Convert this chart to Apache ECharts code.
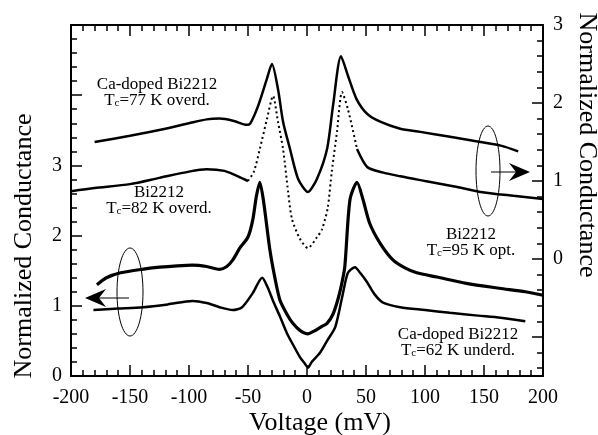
<!DOCTYPE html>
<html>
<head>
<meta charset="utf-8">
<script src="https://cdn.jsdelivr.net/npm/echarts@6/dist/echarts.min.js"></script>
<style>
  html, body { margin: 0; padding: 0; background: #fff; }
  #chart { width: 598px; height: 435px; }
</style>
</head>
<body>
<div id="chart"></div>
<script>
// 右轴: Ca-doped Bi2212, Tc=77 K overd. [mV, G]
const ca77 = [[-180, 1.50], [-150, 1.58], [-120, 1.67], [-100, 1.74], [-85, 1.79], [-74, 1.80],
  [-62, 1.77], [-51, 1.72], [-48, 1.74], [-41.5, 1.96], [-34, 2.31], [-29.7, 2.50], [-24.6, 2.18],
  [-20.3, 1.76], [-14.4, 1.41], [-7.6, 1.03], [0.8, 0.86], [8.5, 1.03], [17, 1.41], [22, 1.96],
  [28.8, 2.60], [34.7, 2.35], [42, 2.05], [51, 1.86], [62, 1.76], [79, 1.67], [96, 1.63],
  [120, 1.57], [147, 1.50], [165, 1.45], [179, 1.38]];

// 右轴: Bi2212, Tc=82 K overd. (中间部分为点线)
const bi82Left = [[-200, 0.87], [-180, 0.91], [-150, 0.96], [-125, 1.04], [-100, 1.12], [-85, 1.15],
  [-70, 1.13], [-60, 1.07], [-50, 1.00]];
const bi82Dots = [[-50, 1.00], [-45, 1.12], [-40, 1.41], [-34, 1.79], [-28.8, 2.09], [-24.6, 1.76],
  [-20.3, 1.41], [-16, 0.86], [-12.7, 0.51], [-6, 0.26], [0.8, 0.14], [8.5, 0.28], [12.7, 0.38],
  [17.5, 0.65], [21, 1.12], [25.4, 1.63], [29.7, 2.14], [34.7, 1.92], [42.4, 1.41]];
const bi82Right = [[42.4, 1.41], [51, 1.18], [64, 1.11], [79, 1.06], [100, 1.00], [125, 0.93],
  [147, 0.86], [175, 0.81], [200, 0.77]];

// 左轴: Bi2212, Tc=95 K opt.
const bi95 = [[-178, 1.30], [-170, 1.40], [-158, 1.47], [-140, 1.52], [-125, 1.55], [-110, 1.57],
  [-97, 1.58], [-85, 1.56], [-74, 1.52], [-68, 1.56], [-63, 1.65], [-57, 1.82], [-50, 1.98],
  [-46, 2.22], [-43, 2.55], [-40, 2.76], [-37, 2.51], [-31.4, 1.79], [-27, 1.38], [-22.9, 1.08],
  [-17, 0.88], [-12, 0.75], [-6, 0.65], [0.8, 0.60], [6, 0.64], [12, 0.70], [17, 0.75],
  [22, 0.88], [26, 1.08], [29, 1.28], [32, 1.55], [36.4, 2.51], [42.4, 2.76], [47.5, 2.51],
  [53, 2.18], [62, 1.89], [73, 1.65], [83, 1.54], [93, 1.47], [110, 1.41], [135, 1.32],
  [163, 1.25], [185, 1.20], [200, 1.15]];

// 左轴: Ca-doped Bi2212, Tc=62 K underd.
const ca62 = [[-181, 0.94], [-160, 0.96], [-139, 0.98], [-118, 1.02], [-97, 1.07], [-85, 1.04],
  [-74, 0.98], [-63, 0.94], [-55, 0.98], [-46, 1.18], [-38, 1.40], [-33, 1.25], [-29, 1.08],
  [-23, 0.85], [-17, 0.61], [-11, 0.42], [-6, 0.27], [-2, 0.18], [0.8, 0.12], [4, 0.20],
  [11, 0.33], [17, 0.50], [24, 0.70], [30.5, 1.18], [34.7, 1.47], [40.7, 1.55], [45, 1.47],
  [50.8, 1.34], [57, 1.17], [64, 1.05], [79, 0.98], [100, 0.94], [121, 0.90], [145, 0.86],
  [164, 0.83], [185, 0.78]];

// 刻度
const leftLabels = [0, 1, 2, 3];
const rightLabels = [0, 1, 2, 3];
const rightMajorTicks = [-1, 0, 1, 2, 3];
const rightMinorTicks = [-1.4, -1.2, -1.0, -0.8, -0.6, -0.4, -0.2, 0, 0.2, 0.4, 0.6, 0.8, 1.0,
  1.2, 1.4, 1.6, 1.8, 2.0, 2.2, 2.4, 2.6, 2.8, 3.0];

const FONT = 'Liberation Serif';
const axisLine = { show: true, onZero: false, lineStyle: { color: '#000', width: 2 } };
const tickStyle = { color: '#000', width: 1.5 };

function xAxisOpt(position, showLabel) {
  return {
    type: 'value', position: position, min: -200, max: 200, interval: 50,
    axisLine: axisLine,
    axisTick: { inside: true, length: 11, lineStyle: tickStyle },
    minorTick: { show: true, splitNumber: 5, length: 6, lineStyle: tickStyle },
    axisLabel: { show: showLabel, color: '#000', fontFamily: FONT, fontSize: 20, margin: 12,
      showMinLabel: true, showMaxLabel: true },
    splitLine: { show: false }
  };
}

function lineSeries(data, yIndex, width, type) {
  return {
    type: 'line', data: data, yAxisIndex: yIndex, showSymbol: false, smooth: 0.25,
    silent: true, lineStyle: { color: '#000', width: width, type: type || 'solid' }
  };
}

// 标注文字 (T_c 下标)
function annot(cx, cy, line1, rest) {
  return {
    type: 'text', x: cx, y: cy, silent: true,
    style: {
      text: '{n|' + line1 + '}\n{n|T}{s|c}{n|' + rest + '}',
      align: 'center', verticalAlign: 'middle',
      rich: {
        n: { fontSize: 17, fontFamily: FONT, fill: '#000', lineHeight: 16 },
        s: { fontSize: 11, fontFamily: FONT, fill: '#000', lineHeight: 16, verticalAlign: 'bottom' }
      }
    }
  };
}

const chart = echarts.init(document.getElementById('chart'), null, { renderer: 'canvas' });

chart.setOption({
  animation: false,
  backgroundColor: '#fff',
  grid: { left: 71, right: 55, top: 25, bottom: 59 },
  xAxis: [xAxisOpt('bottom', true), xAxisOpt('top', false)],
  yAxis: [
    {
      type: 'value', position: 'left', min: 0, max: 5, interval: 1,
      axisLine: axisLine,
      axisTick: { inside: true, length: 11, lineStyle: tickStyle },
      minorTick: { show: true, splitNumber: 5, length: 6, lineStyle: tickStyle },
      axisLabel: { customValues: leftLabels, color: '#000', fontFamily: FONT, fontSize: 20, margin: 9 },
      splitLine: { show: false }
    },
    {
      type: 'value', position: 'right', min: -1.5, max: 3, interval: 0.5,
      axisLine: axisLine,
      axisTick: { inside: true, length: 11, customValues: rightMajorTicks, lineStyle: tickStyle },
      axisLabel: { customValues: rightLabels, color: '#000', fontFamily: FONT, fontSize: 20, margin: 10 },
      splitLine: { show: false }
    },
    {
      type: 'value', position: 'right', min: -1.5, max: 3, interval: 0.5,
      axisLine: { show: false, onZero: false },
      axisTick: { inside: true, length: 6, customValues: rightMinorTicks, lineStyle: tickStyle },
      axisLabel: { show: false },
      splitLine: { show: false }
    }
  ],
  series: [
    lineSeries(ca77, 1, 2.5),
    lineSeries(bi82Left, 1, 2.5),
    lineSeries(bi82Dots, 1, 2, [2, 3]),
    lineSeries(bi82Right, 1, 2.5),
    lineSeries(bi95, 0, 3.2),
    lineSeries(ca62, 0, 2.5)
  ],
  graphic: [
    annot(157, 93, 'Ca-doped Bi2212', '=77 K overd.'),
    annot(159, 201, 'Bi2212', '=82 K overd.'),
    annot(471, 243, 'Bi2212', '=95 K opt.'),
    annot(458, 343, 'Ca-doped Bi2212', '=62 K underd.'),
    // 左椭圆 + 箭头
    { type: 'ellipse', shape: { cx: 130, cy: 292, rx: 13, ry: 44 }, silent: true,
      style: { fill: 'none', stroke: '#000', lineWidth: 1 } },
    { type: 'line', shape: { x1: 129, y1: 298, x2: 98, y2: 298 }, silent: true,
      style: { stroke: '#000', lineWidth: 1 } },
    { type: 'polygon', shape: { points: [[85, 298], [106, 289], [99, 298], [106, 307]] }, silent: true,
      style: { fill: '#000' } },
    // 右椭圆 + 箭头
    { type: 'ellipse', shape: { cx: 488, cy: 171, rx: 12, ry: 45 }, silent: true,
      style: { fill: 'none', stroke: '#000', lineWidth: 1 } },
    { type: 'line', shape: { x1: 491, y1: 172, x2: 516, y2: 172 }, silent: true,
      style: { stroke: '#000', lineWidth: 1 } },
    { type: 'polygon', shape: { points: [[530, 172], [509, 163], [516, 172], [509, 181]] }, silent: true,
      style: { fill: '#000' } },
    // 坐标轴名称
    { type: 'text', x: 24, y: 246, rotation: Math.PI / 2, silent: true,
      style: { text: 'Normalized Conductance', font: '26px "Liberation Serif"', fill: '#000',
        align: 'center', verticalAlign: 'middle' } },
    { type: 'text', x: 587, y: 145, rotation: -Math.PI / 2, silent: true,
      style: { text: 'Normalized Conductance', font: '26px "Liberation Serif"', fill: '#000',
        align: 'center', verticalAlign: 'middle' } },
    { type: 'text', x: 320, y: 423, silent: true,
      style: { text: 'Voltage (mV)', font: '26px "Liberation Serif"', fill: '#000',
        align: 'center', verticalAlign: 'middle' } }
  ]
});
</script>
</body>
</html>
